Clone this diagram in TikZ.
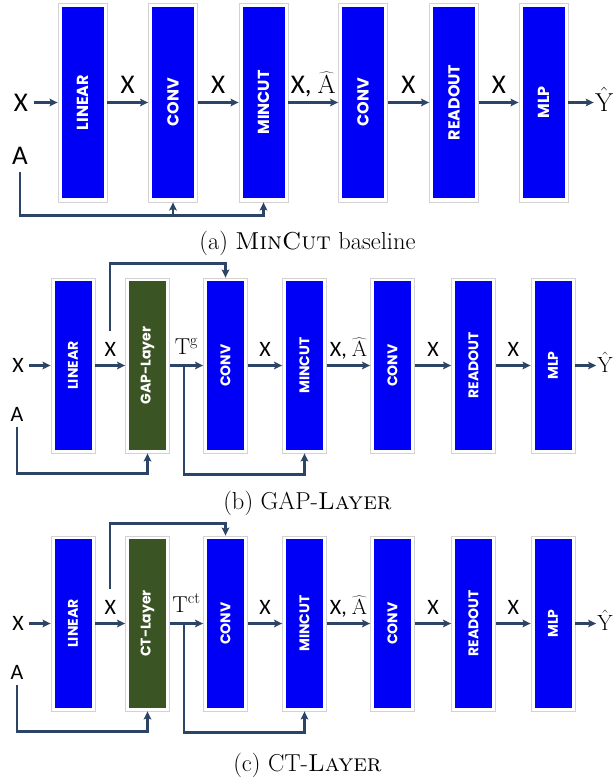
\documentclass[tikz,border=0pt]{standalone}
\usepackage{fontspec}
\usetikzlibrary{arrows.meta}
\newfontfamily\lblfont{Carlito}
\newfontfamily\boxfont{Poppins}
\newcommand\msz[1]{\fontsize{#1}{#1}\selectfont}
\definecolor{nblue}{HTML}{0000F6}
\definecolor{ngreen}{HTML}{3A5423}
\definecolor{ngrey}{HTML}{D2D2D2}
\definecolor{conn}{HTML}{2C4466}
\tikzset{
  outa/.style={draw=ngrey, line width=0.8pt, fill=white, minimum width=49pt, minimum height=199pt, inner sep=0pt},
  ina/.style={fill=#1, rotate=90, minimum width=191pt, minimum height=42pt, inner sep=0pt, text=white,
    font=\boxfont\bfseries\fontsize{16}{16}\selectfont},
  ina/.default=nblue,
  outb/.style={draw=ngrey, line width=0.8pt, fill=white, minimum width=44pt, minimum height=175pt, inner sep=0pt},
  inb/.style={fill=#1, rotate=90, minimum width=169pt, minimum height=37pt, inner sep=0pt, text=white,
    font=\boxfont\bfseries\fontsize{14}{14}\selectfont},
  inb/.default=nblue,
  lbla/.style={inner sep=0pt, text depth=0pt, font=\lblfont\fontsize{27}{27}\selectfont},
  lblb/.style={inner sep=0pt, text depth=0pt, font=\lblfont\fontsize{22}{22}\selectfont},
  arr/.style={draw=conn, line width=2.4pt, -{Stealth[length=8pt,width=7.5pt,inset=1.5pt]}},
  capt/.style={inner sep=0pt, font=\fontsize{24.5}{24.5}\selectfont},
}
\begin{document}
\begin{tikzpicture}[x=1pt,y=-1pt]
\useasboundingbox (0,0) rectangle (614,778);
% ---------------- panel (a)
\node[outa] (a1) at (82.5,102.5) {};
\node[ina] (a1i) at (a1) {LINEAR};
\node[outa] (a2) at (173,102.5) {};
\node[ina] (a2i) at (a2) {CONV};
\node[outa] (a3) at (263.5,102.5) {};
\node[ina] (a3i) at (a3) {MINCUT};
\node[outa] (a4) at (363,102.5) {};
\node[ina] (a4i) at (a4) {CONV};
\node[outa] (a5) at (454,102.5) {};
\node[ina] (a5i) at (a5) {READOUT};
\node[outa] (a6) at (543.5,102.5) {};
\node[ina] (a6i) at (a6) {MLP};
\node[lbla] (aX) at (21,102.5) {X};
\node[lbla] (aA) at (20,156) {A};
\node[lbla] (aY) at (604,99) {\msz{26}$\hat{\mathrm{Y}}$};
\draw[arr, shorten <=6pt] (aX.east) -- (a1.west);
\draw[arr] (a1.east) -- node[lbla, midway, above=8pt] {X} (a2.west);
\draw[arr] (a2.east) -- node[lbla, midway, above=8pt] {X} (a3.west);
\draw[arr] (a3.east) -- node[lbla, midway, above=8pt] {X, \msz{26}$\widehat{\mathrm{A}}$} (a4.west);
\draw[arr] (a4.east) -- node[lbla, midway, above=8pt] {X} (a5.west);
\draw[arr] (a5.east) -- node[lbla, midway, above=8pt] {X} (a6.west);
\draw[arr, shorten >=1pt] (a6.east) -- (a6.east -| aY.west);
\draw[arr, shorten <=7pt] (aA.south) |- ([yshift=-13pt]a3.south) -- (a3.south);
\draw[arr] ([yshift=-13pt]a2.south) -- (a2.south);
\node[capt] (capa) at (307.5,243) {(a) \textsc{MinCut} baseline};
% ---------------- panel (b)
\node[outb] (b1) at (73,365.5) {};
\node[inb] (b1i) at (b1) {LINEAR};
\node[outb] (b2) at (147.5,365.5) {};
\node[inb=ngreen] (b2i) at (b2) {GAP-Layer};
\node[outb] (b3) at (225.5,365.5) {};
\node[inb] (b3i) at (b3) {CONV};
\node[outb] (b4) at (304.5,365.5) {};
\node[inb] (b4i) at (b4) {MINCUT};
\node[outb] (b5) at (392.5,365.5) {};
\node[inb] (b5i) at (b5) {CONV};
\node[outb] (b6) at (473.5,365.5) {};
\node[inb] (b6i) at (b6) {READOUT};
\node[outb] (b7) at (553,365.5) {};
\node[inb] (b7i) at (b7) {MLP};
\node[lblb] (bX) at (18,365.5) {X};
\node[lblb] (bA) at (17,414) {A};
\node[lblb] (bY) at (605,362) {\msz{22}$\hat{\mathrm{Y}}$};
\draw[arr, shorten <=5pt] (bX.east) -- (b1.west);
\draw[arr] (b1.east) -- node[lblb, midway, above=8pt] (bX2) {X} (b2.west);
\draw[arr] (b2.east) -- node[lblb, midway, above=10pt] (bT) {\msz{23}$\mathrm{T}^{\mathrm{g}}$} (b3.west);
\draw[arr] (b3.east) -- node[lblb, midway, above=8pt] {X} (b4.west);
\draw[arr] (b4.east) -- node[lblb, midway, above=8pt] {X, \msz{22}$\widehat{\mathrm{A}}$} (b5.west);
\draw[arr] (b5.east) -- node[lblb, midway, above=8pt] {X} (b6.west);
\draw[arr] (b6.east) -- node[lblb, midway, above=8pt] {X} (b7.west);
\draw[arr, shorten >=1pt] (b7.east) -- (b7.east -| bY.west);
\draw[arr, shorten <=6pt] (bA.south) |- ([yshift=-20pt]b2.south) -- (b2.south);
\draw[arr] ([yshift=10pt]bX2.north) |- ([yshift=14pt]b3.north) -- (b3.north);
\draw[arr] ([xshift=14pt]b2.east) |- ([yshift=-21pt]b4.south) -- (b4.south);
\node[capt] (capb) at (307.5,503) {(b) GAP-\textsc{Layer}};
% ---------------- panel (c)
\node[outb] (c1) at (73,623.5) {};
\node[inb] (c1i) at (c1) {LINEAR};
\node[outb] (c2) at (147.5,623.5) {};
\node[inb=ngreen] (c2i) at (c2) {CT-Layer};
\node[outb] (c3) at (225.5,623.5) {};
\node[inb] (c3i) at (c3) {CONV};
\node[outb] (c4) at (304.5,623.5) {};
\node[inb] (c4i) at (c4) {MINCUT};
\node[outb] (c5) at (392.5,623.5) {};
\node[inb] (c5i) at (c5) {CONV};
\node[outb] (c6) at (473.5,623.5) {};
\node[inb] (c6i) at (c6) {READOUT};
\node[outb] (c7) at (553,623.5) {};
\node[inb] (c7i) at (c7) {MLP};
\node[lblb] (cX) at (18,623.5) {X};
\node[lblb] (cA) at (17,672) {A};
\node[lblb] (cY) at (605,620) {\msz{22}$\hat{\mathrm{Y}}$};
\draw[arr, shorten <=5pt] (cX.east) -- (c1.west);
\draw[arr] (c1.east) -- node[lblb, midway, above=8pt] (cX2) {X} (c2.west);
\draw[arr] (c2.east) -- node[lblb, midway, above=10pt] (cT) {\msz{23}$\mathrm{T}^{\mathrm{ct}}$} (c3.west);
\draw[arr] (c3.east) -- node[lblb, midway, above=8pt] {X} (c4.west);
\draw[arr] (c4.east) -- node[lblb, midway, above=8pt] {X, \msz{22}$\widehat{\mathrm{A}}$} (c5.west);
\draw[arr] (c5.east) -- node[lblb, midway, above=8pt] {X} (c6.west);
\draw[arr] (c6.east) -- node[lblb, midway, above=8pt] {X} (c7.west);
\draw[arr, shorten >=1pt] (c7.east) -- (c7.east -| cY.west);
\draw[arr, shorten <=6pt] (cA.south) |- ([yshift=-20pt]c2.south) -- (c2.south);
\draw[arr] ([yshift=10pt]cX2.north) |- ([yshift=12pt]c3.north) -- (c3.north);
\draw[arr] ([xshift=14pt]c2.east) |- ([yshift=-21pt]c4.south) -- (c4.south);
\node[capt] (capc) at (307.5,765) {(c) CT-\textsc{Layer}};
\end{tikzpicture}
\end{document}
